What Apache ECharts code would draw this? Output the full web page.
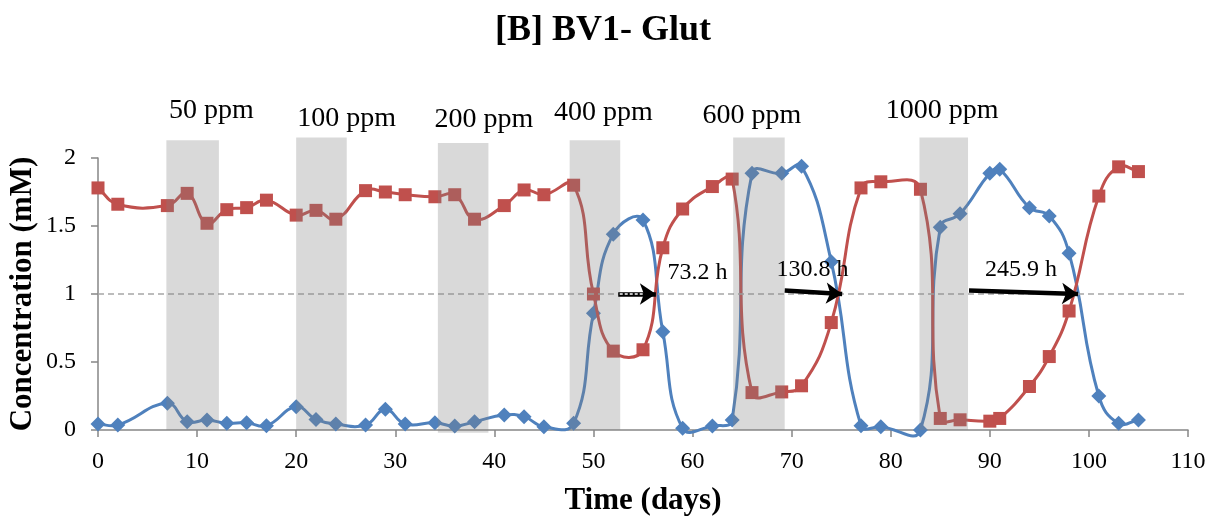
<!DOCTYPE html>
<html>
<head>
<meta charset="utf-8">
<script src="https://cdn.jsdelivr.net/npm/echarts@6/dist/echarts.min.js"></script>
<style>html,body{margin:0;padding:0;background:#fff;}#c{width:1219px;height:525px;}</style>
</head>
<body>
<div id="c"></div>
<script>
// ---- data ----
const days = [0,2,7,9,11,13,15,17,20,22,24,27,29,31,34,36,38,41,43,45,48,50,52,55,57,59,62,64,66,69,71,74,77,79,83,85,87,90,91,94,96,98,101,103,105];
const redValues = [1.78,1.66,1.65,1.74,1.52,1.62,1.635,1.69,1.58,1.615,1.55,1.76,1.75,1.73,1.715,1.73,1.55,1.65,1.765,1.73,1.80,1.0,0.58,0.59,1.34,1.625,1.79,1.845,0.275,0.28,0.325,0.79,1.78,1.825,1.77,0.085,0.075,0.065,0.085,0.32,0.54,0.875,1.72,1.935,1.90];
const blueValues = [0.044,0.037,0.196,0.061,0.074,0.049,0.054,0.032,0.171,0.078,0.044,0.037,0.152,0.044,0.054,0.029,0.061,0.11,0.098,0.024,0.049,0.858,1.44,1.544,0.723,0.012,0.03,0.074,1.887,1.887,1.94,1.238,0.032,0.024,0.0,1.49,1.59,1.887,1.917,1.635,1.574,1.30,0.25,0.049,0.074];
const doseLabels = ['50 ppm','100 ppm','200 ppm','400 ppm','600 ppm','1000 ppm'];
const doseStart = [6.9, 20.0, 34.3, 47.6, 64.1, 82.9];
const doseEnd = [12.2, 25.1, 39.4, 52.7, 69.3, 87.8];
const doseTop = [2.13, 2.15, 2.11, 2.13, 2.15, 2.15];
const doseBottom = [0, 0, -0.02, 0, 0, 0];
const doseLabelX = [11.45, 25.1, 38.95, 51.0, 66.0, 85.2];
const doseLabelY = [2.35, 2.29, 2.28, 2.33, 2.31, 2.35];
const timeLabels = ['73.2 h','130.8 h','245.9 h'];
const timeLabelX = [60.5, 72.1, 93.15];
const timeLabelY = [1.16, 1.18, 1.18];
const arrowStart = [[52.5,1.0],[69.3,1.025],[87.9,1.025]];
const arrowEnd = [[56.3,1.0],[75.1,1.0],[98.9,1.0]];
const xTicks = {min:0, max:110, interval:10};
const yTicks = {min:0, max:2, interval:0.5};

const SERIF = '"Liberation Serif","Times New Roman",serif';
const RED = '#C0504D', BLUE = '#4F81BD', AX = '#868686';

const redData = days.map((d,i)=>[d, redValues[i]]);
const blueData = days.map((d,i)=>[d, blueValues[i]]);
const boxData = doseStart.map((s,i)=>[s, doseEnd[i], doseTop[i], doseBottom[i]]);
const doseTextData = doseLabelX.map((x,i)=>[x, doseLabelY[i], doseLabels[i]]);
const timeTextData = timeLabelX.map((x,i)=>[x, timeLabelY[i], timeLabels[i]]);

const arrowLines = [];
arrowStart.forEach((s,i)=>{
  arrowLines.push([{coord:s, lineStyle:{color:'#000', width:4.5, type:'solid'}}, {coord:arrowEnd[i]}]);
});
arrowLines.push([{coord:[arrowStart[0][0]+0.15, 1.0], symbol:'none', lineStyle:{color:'#fff', width:1.5, type:[3,2]}}, {coord:[arrowEnd[0][0]-1.2, 1.0], symbol:'none'}]);

// Smoothed curve (length-weighted cardinal spline), positioned through the axis scales
function curveSeries(data, color, z){
  return {type:'custom', coordinateSystem:'cartesian2d', clip:false, z:z, silent:true,
    data:data.slice(0, data.length-1).map((p,i)=>[p[0], p[1], data[i+1][0], data[i+1][1]]),
    encode:{x:[0,2], y:[1,3]},
    renderItem:function(params, api){
      const i = params.dataIndex, n = data.length;
      const P = k => api.coord(data[Math.max(0, Math.min(n-1, k))]);
      const p0 = P(i-1), p1 = P(i), p2 = P(i+1), p3 = P(i+2);
      const D = (a,b) => Math.hypot(a[0]-b[0], a[1]-b[1]);
      const s = 0.45;
      const d01 = D(p0,p1), d12 = D(p1,p2), d23 = D(p2,p3);
      const r1 = (d01 + d12) > 0 ? d12/(d01 + d12) : 0;
      const r2 = (d12 + d23) > 0 ? d12/(d12 + d23) : 0;
      return {type:'bezierCurve', shape:{
          x1:p1[0], y1:p1[1], x2:p2[0], y2:p2[1],
          cpx1:p1[0]+(p2[0]-p0[0])*s*r1, cpy1:p1[1]+(p2[1]-p0[1])*s*r1,
          cpx2:p2[0]-(p3[0]-p1[0])*s*r2, cpy2:p2[1]-(p3[1]-p1[1])*s*r2},
        style:{stroke:color, lineWidth:3, fill:null, lineCap:'round'}};
    }};
}

const chart = echarts.init(document.getElementById('c'), null, {renderer:'canvas'});
chart.setOption({
  animation:false,
  backgroundColor:'#fff',
  title:{text:'[B] BV1- Glut', left:598, top:8, textAlign:'center',
    textStyle:{fontFamily:SERIF, fontWeight:'bold', fontSize:36, color:'#000'}},
  grid:{left:98, right:31, top:158, bottom:95, containLabel:false, outerBoundsMode:'none'},
  xAxis:{type:'value', min:xTicks.min, max:xTicks.max, interval:xTicks.interval,
    name:'Time (days)', nameLocation:'middle', nameGap:55, nameMoveOverlap:false,
    nameTextStyle:{fontFamily:SERIF, fontWeight:'bold', fontSize:31, color:'#000'},
    axisLine:{show:true, onZero:false, lineStyle:{color:AX, width:1.5}},
    axisTick:{show:true, inside:false, length:7, lineStyle:{color:AX, width:1.5}},
    axisLabel:{fontFamily:SERIF, fontSize:24, color:'#000', margin:20},
    splitLine:{show:false}},
  yAxis:{type:'value', min:yTicks.min, max:yTicks.max, interval:yTicks.interval,
    name:'Concentration (mM)', nameLocation:'middle', nameGap:60, nameRotate:90, nameMoveOverlap:false,
    nameTextStyle:{fontFamily:SERIF, fontWeight:'bold', fontSize:31, color:'#000'},
    axisLine:{show:true, lineStyle:{color:AX, width:1.5}},
    axisTick:{show:true, inside:false, length:7, lineStyle:{color:AX, width:1.5}},
    axisLabel:{fontFamily:SERIF, fontSize:24, color:'#000', margin:22},
    splitLine:{show:false}},
  series:[
    {type:'line', name:'ref', data:[], markLine:{silent:true, symbol:'none', label:{show:false},
        lineStyle:{color:'#A6A6A6', width:1.5, type:[6,4]}, data:[{yAxis:1}]}, z:1},
    curveSeries(blueData, BLUE, 2),
    {type:'scatter', name:'blue', data:blueData, z:2,
      symbol:'diamond', symbolSize:15, itemStyle:{color:BLUE, opacity:1}},
    curveSeries(redData, RED, 3),
    {type:'scatter', name:'red', data:redData, z:3,
      symbol:'rect', symbolSize:13, itemStyle:{color:RED, opacity:1},
      markLine:{silent:true, symbol:['none','arrow'], symbolSize:16, label:{show:false},
        z:6, data:arrowLines}},
    {type:'custom', name:'shade', coordinateSystem:'cartesian2d', clip:false, z:5,
      data:boxData, encode:{x:[0,1], y:[2,3]},
      renderItem:function(params, api){
        const p0 = api.coord([api.value(0), api.value(2)]);
        const p1 = api.coord([api.value(1), api.value(3)]);
        return {type:'rect', shape:{x:p0[0], y:p0[1], width:p1[0]-p0[0], height:p1[1]-p0[1]},
          style:{fill:'rgba(128,128,128,0.3)'}};
      }},
    {type:'custom', name:'doseText', coordinateSystem:'cartesian2d', clip:false, z:7,
      data:doseTextData, encode:{x:0, y:1},
      renderItem:function(params, api){
        const p = api.coord([api.value(0), api.value(1)]);
        return {type:'text', x:p[0], y:p[1], style:{text:doseTextData[params.dataIndex][2],
          fontFamily:SERIF, fontSize:28, fill:'#000', align:'center', verticalAlign:'middle'}};
      }},
    {type:'custom', name:'timeText', coordinateSystem:'cartesian2d', clip:false, z:7,
      data:timeTextData, encode:{x:0, y:1},
      renderItem:function(params, api){
        const p = api.coord([api.value(0), api.value(1)]);
        return {type:'text', x:p[0], y:p[1], style:{text:timeTextData[params.dataIndex][2],
          fontFamily:SERIF, fontSize:24, fill:'#000', align:'center', verticalAlign:'middle'}};
      }}
  ]
});
</script>
</body>
</html>
